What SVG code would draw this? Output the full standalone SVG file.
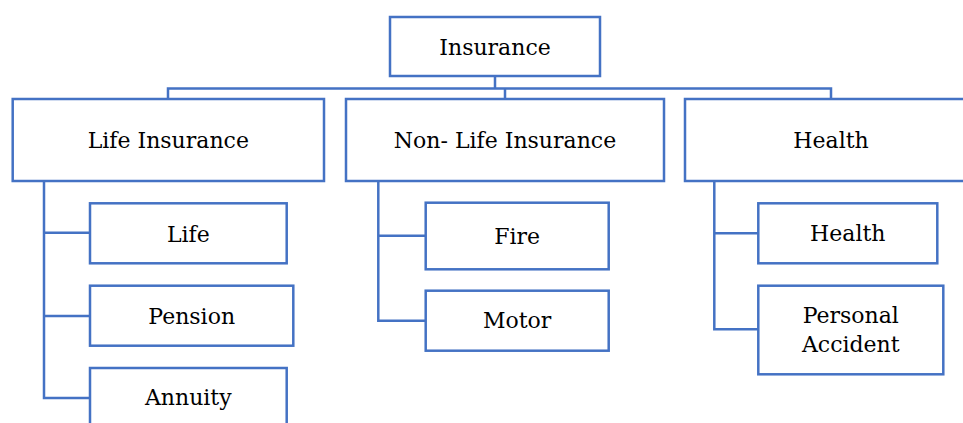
<svg xmlns="http://www.w3.org/2000/svg" width="963" height="423" viewBox="0 0 963 423">
<style>
.box{fill:#fff;stroke:#4472C4;stroke-width:2.5}
.ln{fill:none;stroke:#4472C4;stroke-width:2.5}
text{font-family:"DejaVu Serif","Liberation Serif",serif;font-size:22px;fill:#000;text-anchor:middle}
</style>
<rect width="963" height="423" fill="#fff"/>
<g id="connectors">
<path class="ln" d="M495,76 V88.5 M168,99 V88.5 H831 V99 M505,88.5 V99"/>
<path class="ln" d="M44,181 V398 H90 M44,232.7 H90 M44,316 H90"/>
<path class="ln" d="M378.3,181 V320.7 H425.7 M378.3,235.7 H425.7"/>
<path class="ln" d="M714.3,181 V329.3 H758.3 M714.3,233.3 H758.3"/>
</g>
<g id="insurance"><rect class="box" x="390" y="17" width="210" height="59"/><text x="495" y="55">Insurance</text></g>
<g id="life-insurance"><rect class="box" x="12.7" y="99" width="311.3" height="82"/><text x="168.3" y="148.3">Life Insurance</text></g>
<g id="non-life-insurance"><rect class="box" x="346" y="99" width="318" height="82"/><text x="505" y="148.3">Non- Life Insurance</text></g>
<g id="health-group"><rect class="box" x="685" y="99" width="294" height="82"/><text x="831" y="148.3">Health</text></g>
<g id="life"><rect class="box" x="90" y="203.3" width="196.7" height="60"/><text x="188.3" y="241.7">Life</text></g>
<g id="pension"><rect class="box" x="90" y="285.7" width="203.3" height="60"/><text x="191.7" y="324">Pension</text></g>
<g id="annuity"><rect class="box" x="90" y="368" width="196.7" height="70"/><text x="188.3" y="405">Annuity</text></g>
<g id="fire"><rect class="box" x="425.7" y="202.7" width="183" height="66.6"/><text x="517.2" y="244">Fire</text></g>
<g id="motor"><rect class="box" x="425.7" y="290.7" width="183" height="60"/><text x="517.2" y="328.3">Motor</text></g>
<g id="health"><rect class="box" x="758.3" y="203.3" width="179" height="60"/><text x="847.8" y="240.7">Health</text></g>
<g id="personal-accident"><rect class="box" x="758.3" y="285.7" width="185" height="88.6"/><text x="850.8" y="323.3">Personal</text><text x="850.8" y="351.7">Accident</text></g>
</svg>
